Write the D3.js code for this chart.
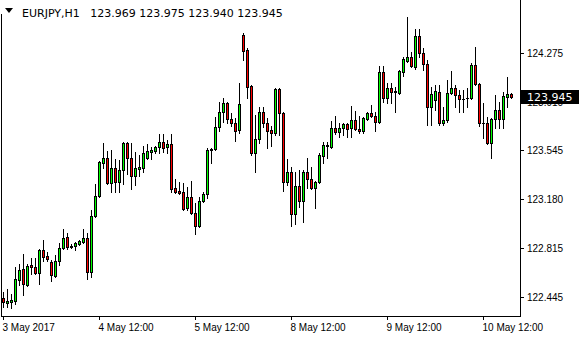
<!DOCTYPE html>
<html>
<head>
<meta charset="utf-8">
<script src="https://cdn.jsdelivr.net/npm/d3@7"></script>
<style>
  html, body { margin: 0; padding: 0; background: #fff; }
  svg { display: block; font-family: "DejaVu Sans", sans-serif; font-size: 11px; }
</style>
</head>
<body>
<div id="chart"></div>
<script>
const symbol = "EURJPY,H1";

const opens = [
  122.438, 122.400, 122.408, 122.415, 122.573, 122.655, 122.535, 122.685, 122.670, 122.625,
  122.798, 122.753, 122.708, 122.603, 122.715, 122.813, 122.895, 122.828, 122.828, 122.843,
  122.858, 122.888, 122.633, 123.053, 123.203, 123.450, 123.488, 123.300, 123.413, 123.308,
  123.398, 123.600, 123.488, 123.353, 123.405, 123.413, 123.488, 123.533, 123.540, 123.570,
  123.608, 123.570, 123.593, 123.263, 123.240, 123.233, 123.113, 123.195, 123.075, 122.978,
  123.165, 123.218, 123.548, 123.555, 123.720, 123.833, 123.900, 123.780, 123.750, 123.698,
  124.410, 124.298, 124.028, 123.525, 123.630, 123.833, 123.750, 123.698, 123.675, 124.005,
  123.825, 123.308, 123.383, 123.068, 123.278, 123.165, 123.383, 123.330, 123.263, 123.308,
  123.503, 123.578, 123.570, 123.713, 123.683, 123.713, 123.743, 123.713, 123.773, 123.705,
  123.690, 123.780, 123.825, 123.803, 123.758, 124.133, 123.938, 124.013, 123.990, 123.975,
  124.133, 124.215, 124.245, 124.170, 124.403, 124.275, 124.193, 123.870, 123.923, 123.983,
  123.750, 123.773, 123.975, 124.013, 123.960, 123.930, 123.938, 123.938, 124.185, 124.043,
  123.750, 123.750, 123.600, 123.780, 123.848, 123.780, 123.945, 123.969
];

const highs = [
  122.483, 122.505, 122.468, 122.670, 122.693, 122.768, 122.693, 122.738, 122.738, 122.805,
  122.873, 122.783, 122.723, 122.760, 122.850, 122.955, 122.925, 122.843, 122.858, 122.873,
  122.955, 122.925, 123.098, 123.293, 123.465, 123.600, 123.540, 123.548, 123.480, 123.473,
  123.608, 123.608, 123.600, 123.533, 123.510, 123.578, 123.593, 123.570, 123.578, 123.668,
  123.668, 123.623, 123.668, 123.330, 123.308, 123.300, 123.270, 123.315, 123.150, 123.195,
  123.233, 123.563, 123.563, 123.795, 123.908, 123.938, 123.908, 123.825, 123.788, 124.050,
  124.425, 124.313, 124.035, 123.810, 123.870, 123.870, 123.788, 123.728, 124.013, 124.013,
  123.833, 123.480, 123.420, 123.383, 123.398, 123.398, 123.488, 123.420, 123.315, 123.525,
  123.608, 123.608, 123.765, 123.803, 123.750, 123.750, 123.750, 123.878, 123.840, 123.803,
  123.795, 123.833, 123.885, 123.833, 124.178, 124.178, 124.050, 124.050, 124.020, 124.148,
  124.245, 124.545, 124.283, 124.455, 124.455, 124.313, 124.223, 124.020, 124.035, 124.035,
  123.870, 124.073, 124.140, 124.035, 123.998, 123.998, 124.013, 124.200, 124.320, 124.050,
  123.900, 123.795, 123.788, 123.960, 123.908, 123.983, 124.095, 123.975
];

const lows = [
  122.370, 122.370, 122.363, 122.393, 122.535, 122.460, 122.528, 122.618, 122.618, 122.543,
  122.715, 122.715, 122.565, 122.595, 122.685, 122.805, 122.805, 122.813, 122.798, 122.835,
  122.850, 122.580, 122.595, 123.045, 123.195, 123.413, 123.293, 123.233, 123.233, 123.233,
  123.293, 123.368, 123.255, 123.285, 123.353, 123.383, 123.480, 123.480, 123.525, 123.525,
  123.533, 123.525, 123.233, 123.225, 123.218, 123.098, 123.098, 123.068, 122.918, 122.970,
  123.158, 123.188, 123.450, 123.548, 123.690, 123.758, 123.750, 123.728, 123.615, 123.675,
  124.223, 123.938, 123.510, 123.383, 123.600, 123.720, 123.563, 123.578, 123.660, 123.660,
  123.240, 123.285, 122.978, 122.993, 123.120, 123.008, 123.263, 123.255, 123.113, 123.300,
  123.450, 123.488, 123.563, 123.668, 123.645, 123.660, 123.645, 123.645, 123.698, 123.675,
  123.675, 123.773, 123.795, 123.690, 123.750, 123.908, 123.900, 123.900, 123.833, 123.968,
  124.103, 124.208, 124.170, 124.155, 124.245, 124.148, 123.735, 123.735, 123.848, 123.735,
  123.735, 123.758, 123.968, 123.870, 123.833, 123.833, 123.870, 123.930, 124.035, 123.728,
  123.638, 123.593, 123.488, 123.713, 123.713, 123.713, 123.870, 123.940
];

const closes = [
  122.408, 122.415, 122.423, 122.580, 122.648, 122.543, 122.678, 122.670, 122.625, 122.798,
  122.745, 122.730, 122.610, 122.715, 122.813, 122.888, 122.820, 122.820, 122.850, 122.865,
  122.888, 122.633, 123.053, 123.203, 123.458, 123.488, 123.300, 123.413, 123.308, 123.398,
  123.600, 123.488, 123.353, 123.413, 123.420, 123.525, 123.540, 123.548, 123.570, 123.608,
  123.563, 123.593, 123.255, 123.233, 123.225, 123.105, 123.195, 123.075, 122.978, 123.165,
  123.218, 123.548, 123.555, 123.720, 123.833, 123.900, 123.780, 123.750, 123.690, 123.893,
  124.290, 124.020, 123.525, 123.630, 123.833, 123.750, 123.690, 123.675, 124.005, 123.825,
  123.308, 123.383, 123.068, 123.278, 123.165, 123.383, 123.330, 123.263, 123.308, 123.510,
  123.585, 123.585, 123.713, 123.683, 123.713, 123.743, 123.705, 123.773, 123.705, 123.690,
  123.788, 123.825, 123.803, 123.758, 124.133, 123.938, 124.013, 123.983, 123.983, 124.140,
  124.230, 124.245, 124.178, 124.403, 124.275, 124.193, 123.870, 123.968, 123.990, 123.750,
  123.773, 123.975, 124.013, 123.960, 123.930, 123.930, 123.938, 124.185, 124.043, 123.750,
  123.750, 123.600, 123.780, 123.848, 123.780, 123.953, 123.968, 123.945
];

const priceTicks = [124.275, 123.910, 123.545, 123.180, 122.815, 122.445];
const timeLabels = ["3 May 2017", "4 May 12:00", "5 May 12:00", "8 May 12:00", "9 May 12:00", "10 May 12:00"];
const timeTickBars = [0, 24, 48, 72, 96, 120];
const lastPrice = 123.945;

const WIDTH = 580;
const HEIGHT = 340;
const PLOT = { left: 1, top: 14, right: 520, bottom: 316 };

const UP = "#00ff00";
const DOWN = "#ff0000";

const bars = opens.map((o, i) => ({ i, o, h: highs[i], l: lows[i], c: closes[i] }));
const fmt = d3.format(".3f");

const svg = d3.select("#chart")
  .append("svg")
  .attr("width", WIDTH)
  .attr("height", HEIGHT);

const x = d3.scaleLinear()
  .domain([0, bars.length - 1])
  .range([3, 511])
  .interpolate(d3.interpolateRound);

const y = d3.scaleLinear()
  .domain([122.445, 124.275])
  .range([297, 53])
  .interpolate(d3.interpolateRound);

// frame
svg.append("path")
  .attr("d", `M${PLOT.left + 0.5},${PLOT.top}V${PLOT.bottom + 0.5}H${PLOT.right + 0.5}V0`)
  .attr("fill", "none")
  .attr("stroke", "#000")
  .attr("shape-rendering", "crispEdges");

// price axis
const yAxis = svg.append("g")
  .attr("transform", `translate(${PLOT.right},0)`)
  .call(d3.axisRight(y).tickValues(priceTicks).tickSize(4).tickPadding(3).tickFormat(fmt));
yAxis.select(".domain").remove();
yAxis.selectAll("text").attr("font-family", null).attr("font-size", null).attr("fill", "#000");
yAxis.selectAll("line").attr("shape-rendering", "crispEdges");

// time axis
const xAxis = svg.append("g")
  .attr("transform", `translate(0,${PLOT.bottom})`)
  .call(d3.axisBottom(x).tickValues(timeTickBars).tickSize(4).tickPadding(4)
    .tickFormat((d, k) => timeLabels[k]));
xAxis.select(".domain").remove();
xAxis.selectAll("text")
  .attr("font-family", null).attr("font-size", null)
  .attr("text-anchor", "start")
  .attr("x", -1)
  .attr("fill", "#000");
xAxis.selectAll("line").attr("shape-rendering", "crispEdges");

// candles
const g = svg.append("g").attr("shape-rendering", "crispEdges");

g.selectAll("line.wick")
  .data(bars)
  .enter()
  .append("line")
  .attr("class", "wick")
  .attr("x1", d => x(d.i) + 0.5)
  .attr("x2", d => x(d.i) + 0.5)
  .attr("y1", d => y(d.h))
  .attr("y2", d => y(d.l) + 1)
  .attr("stroke", "#000");

const bodies = bars.filter(d => y(d.o) !== y(d.c));
const dojis = bars.filter(d => y(d.o) === y(d.c));

g.selectAll("rect.body")
  .data(bodies)
  .enter()
  .append("rect")
  .attr("class", "body")
  .attr("x", d => x(d.i) - 0.5)
  .attr("y", d => Math.min(y(d.o), y(d.c)) + 0.5)
  .attr("width", 2)
  .attr("height", d => Math.abs(y(d.o) - y(d.c)))
  .attr("fill", d => d.c >= d.o ? UP : DOWN)
  .attr("stroke", "#000");

g.selectAll("line.doji")
  .data(dojis)
  .enter()
  .append("line")
  .attr("class", "doji")
  .attr("x1", d => x(d.i) - 1)
  .attr("x2", d => x(d.i) + 2)
  .attr("y1", d => y(d.c) + 0.5)
  .attr("y2", d => y(d.c) + 0.5)
  .attr("stroke", "#000");

// last price marker
const last = bars[bars.length - 1];
svg.append("rect")
  .attr("x", PLOT.right + 1)
  .attr("y", y(lastPrice) - 7)
  .attr("width", 58)
  .attr("height", 14)
  .attr("fill", "#000");
svg.append("text")
  .attr("x", PLOT.right + 7)
  .attr("y", y(lastPrice))
  .attr("dy", "0.36em")
  .attr("fill", "#fff")
  .text(fmt(lastPrice));

// header
svg.append("path")
  .attr("d", "M5,8H13L9,13Z")
  .attr("fill", "#000");
svg.append("text")
  .attr("x", 22)
  .attr("y", 17)
  .attr("fill", "#000")
  .style("white-space", "pre")
  .text(`${symbol}   ${fmt(last.o)} ${fmt(last.h)} ${fmt(last.l)} ${fmt(last.c)}`);
</script>
</body>
</html>
